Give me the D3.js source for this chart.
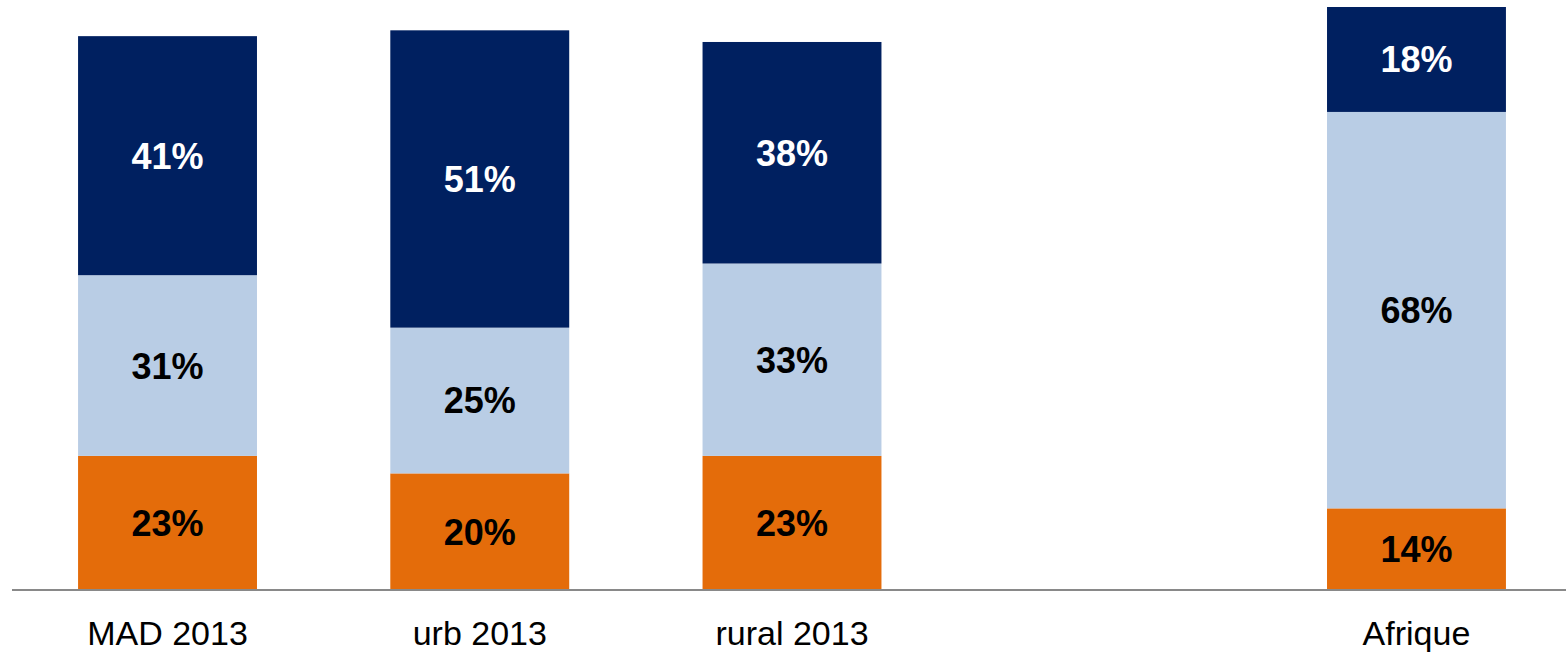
<!DOCTYPE html>
<html><head><meta charset="utf-8">
<script src="https://cdn.jsdelivr.net/npm/d3@7"></script>
<style>html,body{margin:0;padding:0;background:#fff;} svg{display:block;}</style>
</head><body>
<svg id="c" width="1566" height="653"></svg>
<script>
const categories = ["MAD 2013", "urb 2013", "rural 2013", "", "Afrique"];
const bottomVals = [23, 20, 23, null, 14];
const middleVals = [31, 25, 33, null, 68];
const topVals    = [41, 51, 38, null, 18];
const seriesNames = ["bottom", "middle", "top"];
const seriesColors = ["#E46C0A", "#B9CDE5", "#002060"];
const labelColors = ["#000000", "#000000", "#ffffff"];

const svg = d3.select("#c");
const keys = categories.map((c, i) => "k" + i);
const x = d3.scaleBand().domain(keys).range([11.4, 1572.6]).paddingInner(0.427).paddingOuter(0.2135);
const y = d3.scaleLinear().domain([0, 100]).range([590, 7]);

const rows = categories.map((c, i) => ({key: keys[i], cat: c, bottom: bottomVals[i], middle: middleVals[i], top: topVals[i]}))
  .filter(d => d.bottom != null);
const stack = d3.stack().keys(seriesNames)(rows);

stack.forEach((layer, li) => {
  const g = svg.append("g");
  g.selectAll("rect").data(layer).join("rect")
    .attr("x", d => x(d.data.key))
    .attr("width", x.bandwidth())
    .attr("y", d => y(d[1]))
    .attr("height", d => y(d[0]) - y(d[1]))
    .attr("fill", seriesColors[li]);
  g.selectAll("text").data(layer).join("text")
    .attr("x", d => x(d.data.key) + x.bandwidth() / 2)
    .attr("y", d => (y(d[0]) + y(d[1])) / 2)
    .attr("dy", "0.36em")
    .attr("text-anchor", "middle")
    .attr("font-family", "Liberation Sans, Arial, sans-serif")
    .attr("font-weight", "bold")
    .attr("font-size", 36)
    .attr("fill", labelColors[li])
    .text(d => (d[1] - d[0]) + "%");
});

const axis = d3.axisBottom(x).tickSize(0).tickPadding(0).tickFormat((k, i) => categories[i]);
const ax = svg.append("g").attr("transform", "translate(0,590)").call(axis);
ax.select(".domain").attr("stroke", "#898989").attr("stroke-width", 2).attr("d", "M12,0H1566");
ax.selectAll("text")
  .attr("y", 43).attr("dy", "0.35em")
  .attr("font-family", "Liberation Sans, Arial, sans-serif")
  .attr("font-size", 34).attr("fill", "#000");
</script>
</body></html>
